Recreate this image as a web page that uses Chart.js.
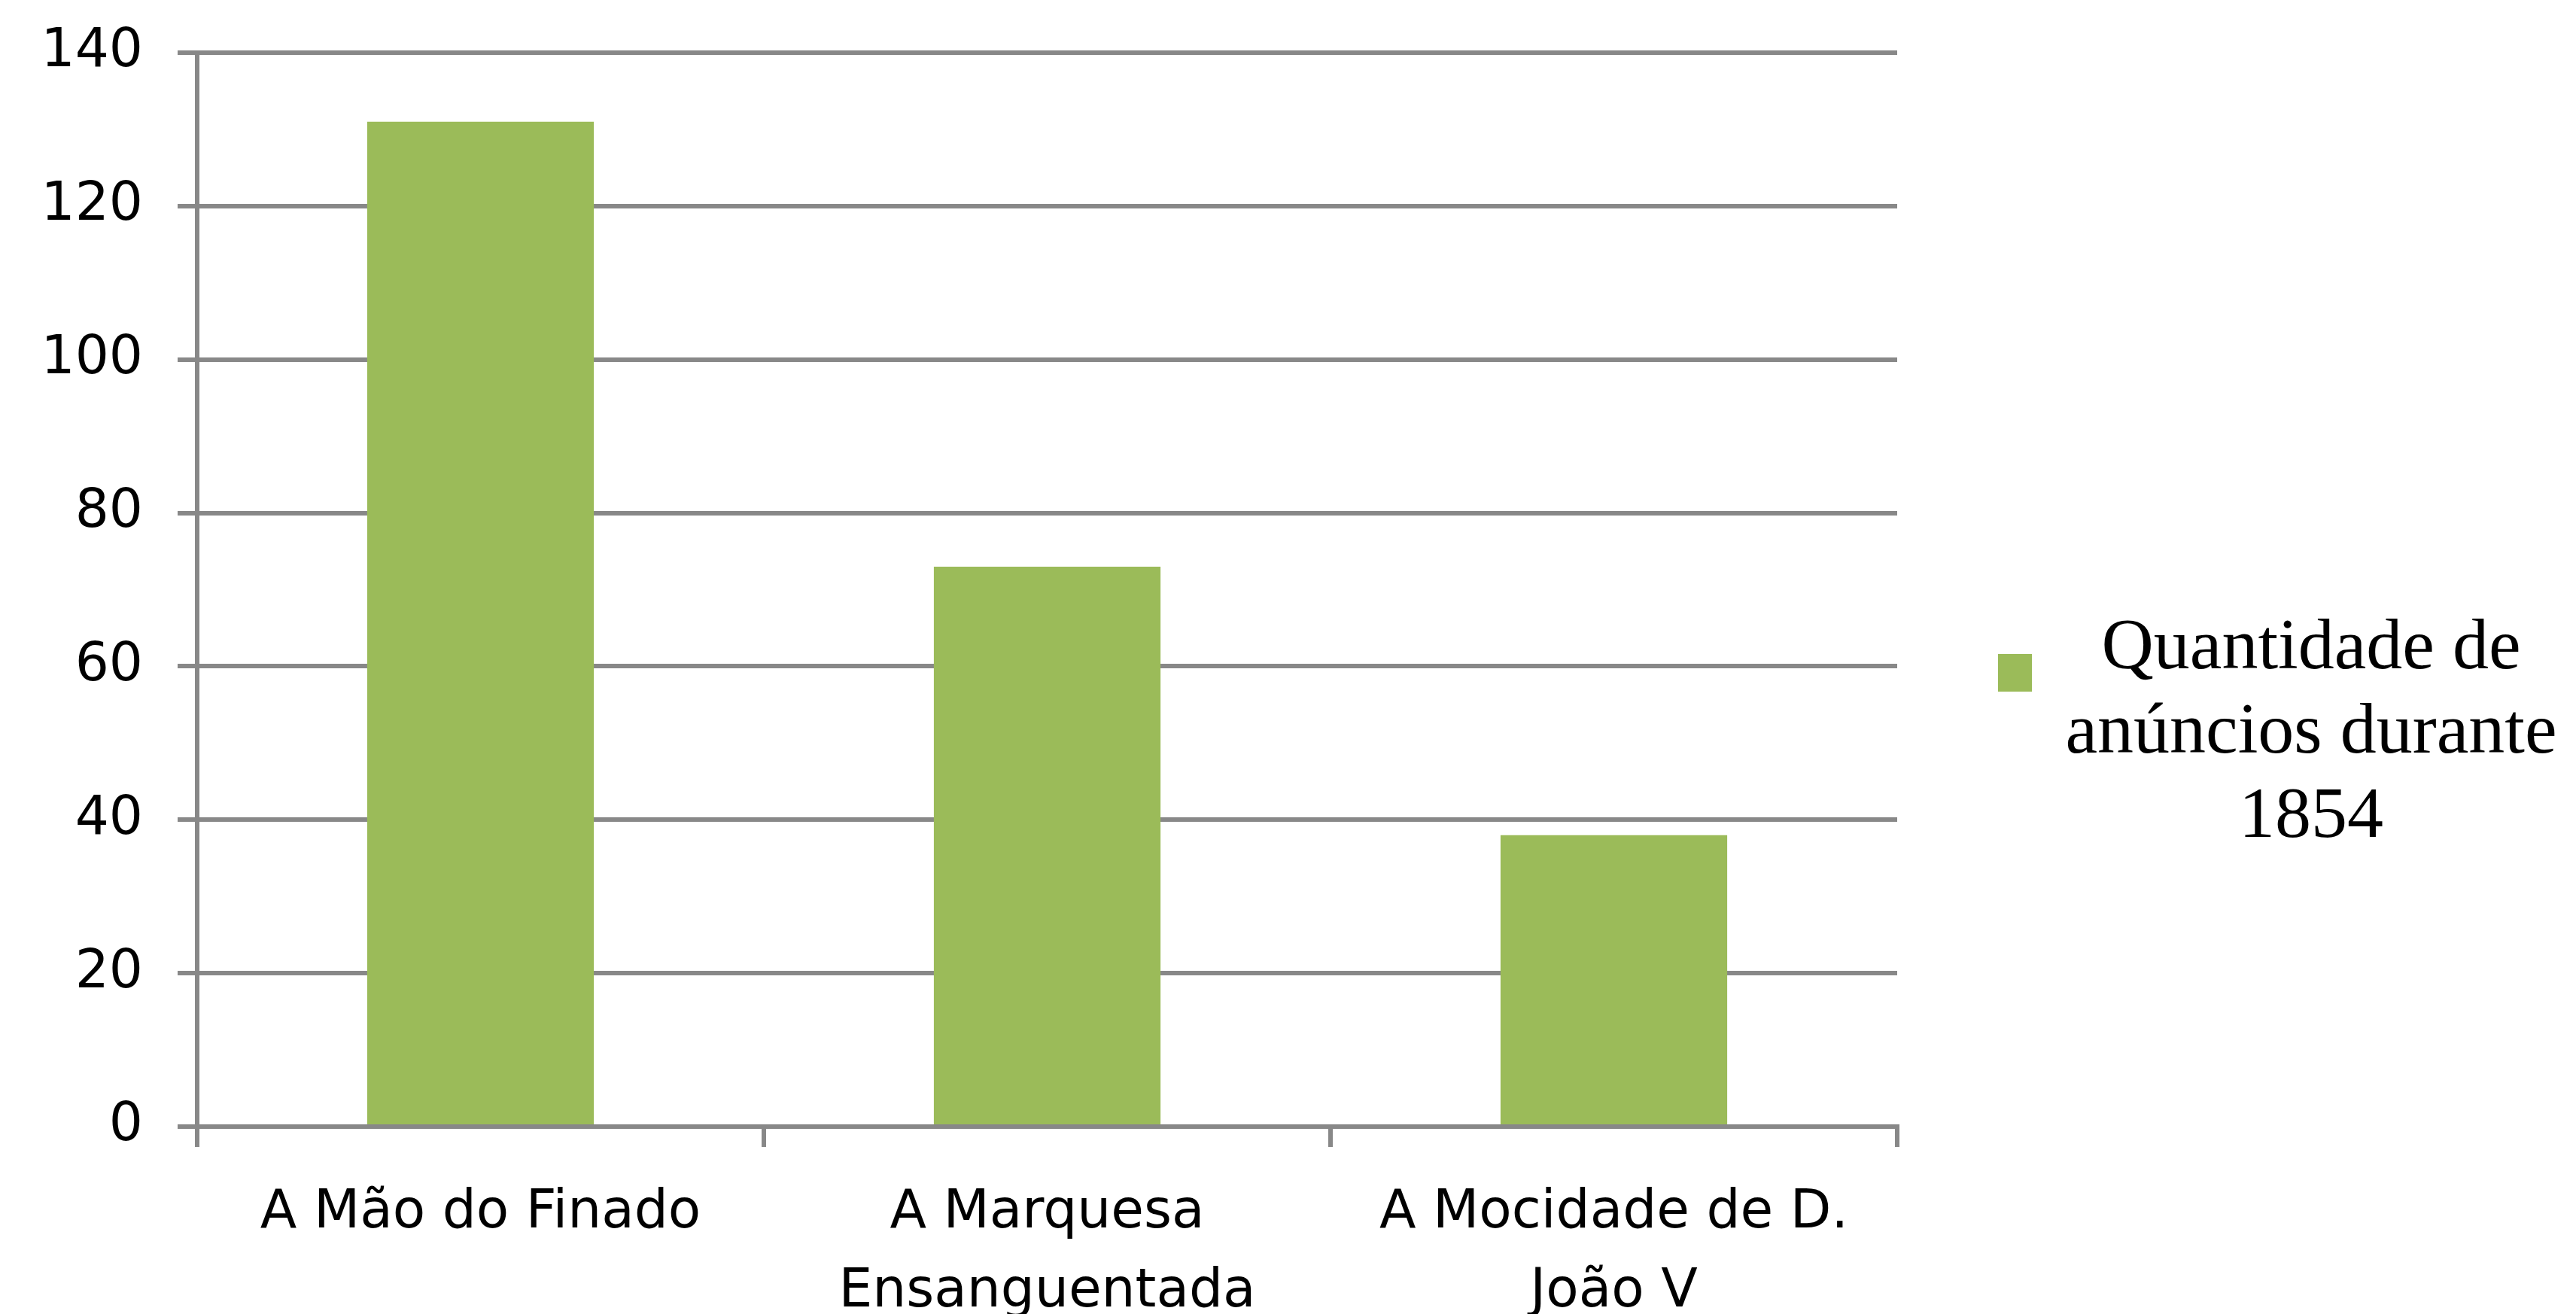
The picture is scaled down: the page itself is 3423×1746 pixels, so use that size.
<!DOCTYPE html>
<html>
<head>
<meta charset="utf-8">
<script src="https://cdn.jsdelivr.net/npm/chart.js@4/dist/chart.umd.min.js"></script>
<style>
  html, body { margin: 0; padding: 0; background: #fff; }
  #wrap { position: relative; width: 3423px; height: 1746px; }
  #legend { position: absolute; left: 0; top: 0; }
  #legend .box { position: absolute; left: 2655px; top: 869px; width: 45px; height: 50px; }
  #legend .txt { position: absolute; left: 2726px; top: 800px; width: 690px;
    font-family: "Liberation Serif", "Times New Roman", serif; font-size: 96px;
    line-height: 112px; text-align: center; color: #000; }
</style>
</head>
<body>
<div id="wrap">
  <canvas id="barChart" width="3423" height="1746"></canvas>
  <div id="legend"></div>
</div>
<script>
// chart data
var categories = [
    ['A Mão do Finado'],
    ['A Marquesa', 'Ensanguentada'],
    ['A Mocidade de D.', 'João V']
];
var seriesLabel = 'Quantidade de anúncios durante 1854';
var seriesValues = [131, 73, 38];
var yTicks = [0, 20, 40, 60, 80, 100, 120, 140];

var barColor = '#9BBB59';
var lineColor = '#888888';

var ctx = document.getElementById('barChart').getContext('2d');

var MyChart = new Chart(ctx, {
    type: 'bar',
    data: {
        labels: categories,
        datasets: [{
            label: seriesLabel,
            data: seriesValues,
            backgroundColor: barColor,
            borderWidth: 0,
            barPercentage: 0.4,
            categoryPercentage: 1.0
        }]
    },
    options: {
        responsive: false,
        animation: false,
        layout: {
            padding: { top: 70, right: 902, bottom: 0, left: 0 }
        },
        plugins: {
            legend: { display: false },
            tooltip: { enabled: false }
        },
        scales: {
            x: {
                grid: {
                    offset: true,
                    drawOnChartArea: false,
                    drawTicks: true,
                    tickLength: 27,
                    color: lineColor,
                    lineWidth: 6
                },
                border: { color: lineColor, width: 6 },
                ticks: {
                    color: '#000',
                    font: { family: 'DejaVu Sans', size: 71, lineHeight: 1.48 },
                    padding: 36,
                    maxRotation: 0,
                    autoSkip: false
                },
                afterFit: function (scale) {
                    scale.height = 249;
                    scale.paddingLeft = 0;
                    scale.paddingRight = 0;
                }
            },
            y: {
                min: yTicks[0],
                max: yTicks[yTicks.length - 1],
                afterBuildTicks: function (scale) {
                    scale.ticks = yTicks.map(function (v) { return { value: v }; });
                },
                grid: {
                    color: lineColor,
                    lineWidth: 6,
                    drawTicks: true,
                    tickLength: 26
                },
                border: { color: lineColor, width: 6 },
                ticks: {
                    color: '#000',
                    font: { family: 'DejaVu Sans', size: 71 },
                    padding: 46
                },
                afterFit: function (scale) {
                    scale.width = 262;
                    scale.paddingTop = 0;
                    scale.paddingBottom = 0;
                }
            }
        }
    }
});

// legend as html, built from the dataset
var ds = MyChart.data.datasets[0];
var legend = document.getElementById('legend');
var box = document.createElement('div');
box.className = 'box';
box.style.background = ds.backgroundColor;
var txt = document.createElement('div');
txt.className = 'txt';
txt.textContent = ds.label;
legend.appendChild(box);
legend.appendChild(txt);
</script>
</body>
</html>
